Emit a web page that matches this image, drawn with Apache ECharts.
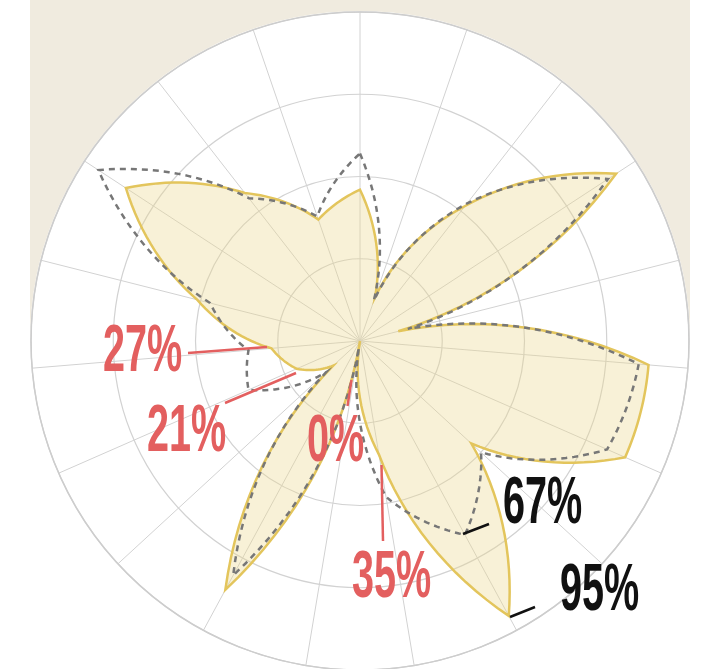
<!DOCTYPE html>
<html>
<head>
<meta charset="utf-8">
<script src="https://cdn.jsdelivr.net/npm/echarts@6/dist/echarts.min.js"></script>
<style>
  body { margin: 0; background: #fff; }
  .wrap { position: relative; width: 713px; height: 669px; }
  .band { position: absolute; left: 30px; top: 0; width: 660px; height: 345px; background: #f0ebdf; }
  .disk { position: absolute; left: 30px; top: 11px; width: 660px; height: 660px; border-radius: 50%; background: #fff; }
  #chart { position: absolute; left: 0; top: 0; width: 713px; height: 669px; }
</style>
</head>
<body>
<div class="wrap">
  <div class="band"></div>
  <div class="disk"></div>
  <div id="chart"></div>
</div>
<script>
// 19 spokes, clockwise from the top
const spokes = [0, 1, 2, 3, 4, 5, 6, 7, 8, 9, 10, 11, 12, 13, 14, 15, 16, 17, 18];
// filled (yellow) shape, percent
const current = [46, 14, 52, 93, 12, 88, 88, 46, 95, 35, 0, 86, 11, 21, 27, 51, 85, 57, 39];
// dashed outline, percent
const previous = [57, 13, 53, 90, 15, 85, 82, 50, 67, 48, 2, 81, 14, 37, 34, 47, 95, 55, 40];
// ring values
const ringTicks = [0, 25, 50, 75, 100];

// annotations: text, left x, middle y, leader line
const notes = [
  { text: "27%", x: 103, y: 353, line: [188, 353, 267, 347], color: "#e35f5f" },
  { text: "21%", x: 147, y: 433, line: [225, 403, 296, 373], color: "#e35f5f" },
  { text: "0%", x: 307, y: 443, line: [351.5, 380, 347.5, 406], color: "#e35f5f" },
  { text: "35%", x: 352, y: 579, line: [381.5, 465, 383, 541], color: "#e35f5f" },
  { text: "67%", x: 503, y: 505, line: [463, 534, 489, 524], color: "#111" },
  { text: "95%", x: 560, y: 592, line: [510, 617, 535, 607], color: "#111" },
];

const chart = echarts.init(document.getElementById("chart"));

// ggplot-like polar polygon: radius changes linearly with angle between spokes
function polarShape(values, style) {
  return function (params, api) {
    if (params.dataIndex !== 0) return null;
    const n = values.length;
    const steps = 16;
    const pts = [];
    for (let i = 0; i < n; i++) {
      const a = values[i];
      const b = values[(i + 1) % n];
      for (let s = 0; s < steps; s++) {
        const t = s / steps;
        pts.push(api.coord([a + (b - a) * t, i + t]));
      }
    }
    return { type: "polygon", shape: { points: pts }, style: style };
  };
}

const graphics = [];
notes.forEach((d) => {
  graphics.push({
    type: "line",
    shape: { x1: d.line[0], y1: d.line[1], x2: d.line[2], y2: d.line[3] },
    style: { stroke: d.color, lineWidth: 2.5 },
    z: 10,
  });
  graphics.push({
    type: "text",
    x: d.x,
    y: d.y,
    scaleX: 0.6,
    z: 10,
    style: {
      text: d.text,
      fill: d.color,
      font: "bold 66px 'Liberation Sans Narrow', 'Liberation Sans', sans-serif",
      textAlign: "left",
      textVerticalAlign: "middle",
    },
  });
});

chart.setOption({
  animation: false,
  polar: { center: [360, 341], radius: 329 },
  angleAxis: {
    type: "value",
    min: 0,
    max: spokes.length,
    interval: 1,
    startAngle: 90,
    clockwise: true,
    axisLine: { show: true, lineStyle: { color: "#cdcdcd", width: 1.5 } },
    axisTick: { show: false },
    axisLabel: { show: false },
    splitLine: { show: true, lineStyle: { color: "#d2d2d2", width: 1 } },
  },
  radiusAxis: {
    type: "value",
    min: ringTicks[0],
    max: ringTicks[ringTicks.length - 1],
    interval: ringTicks[1] - ringTicks[0],
    axisLine: { show: false },
    axisTick: { show: false },
    axisLabel: { show: false },
    splitLine: { show: true, lineStyle: { color: "#d2d2d2", width: 1.2 } },
  },
  series: [
    {
      type: "custom",
      coordinateSystem: "polar",
      data: spokes.map((i) => [current[i], i]),
      encode: { radius: 0, angle: 1 },
      renderItem: polarShape(current, {
        fill: "rgba(236,214,140,0.35)",
        stroke: "#e3c55c",
        lineWidth: 2.5,
        lineJoin: "miter",
      }),
      z: 2,
    },
    {
      type: "custom",
      coordinateSystem: "polar",
      data: spokes.map((i) => [previous[i], i]),
      encode: { radius: 0, angle: 1 },
      renderItem: polarShape(previous, {
        fill: "none",
        stroke: "#777777",
        lineWidth: 2.5,
        lineDash: [6, 5],
      }),
      z: 3,
    },
  ],
  graphic: graphics,
});
</script>
</body>
</html>
